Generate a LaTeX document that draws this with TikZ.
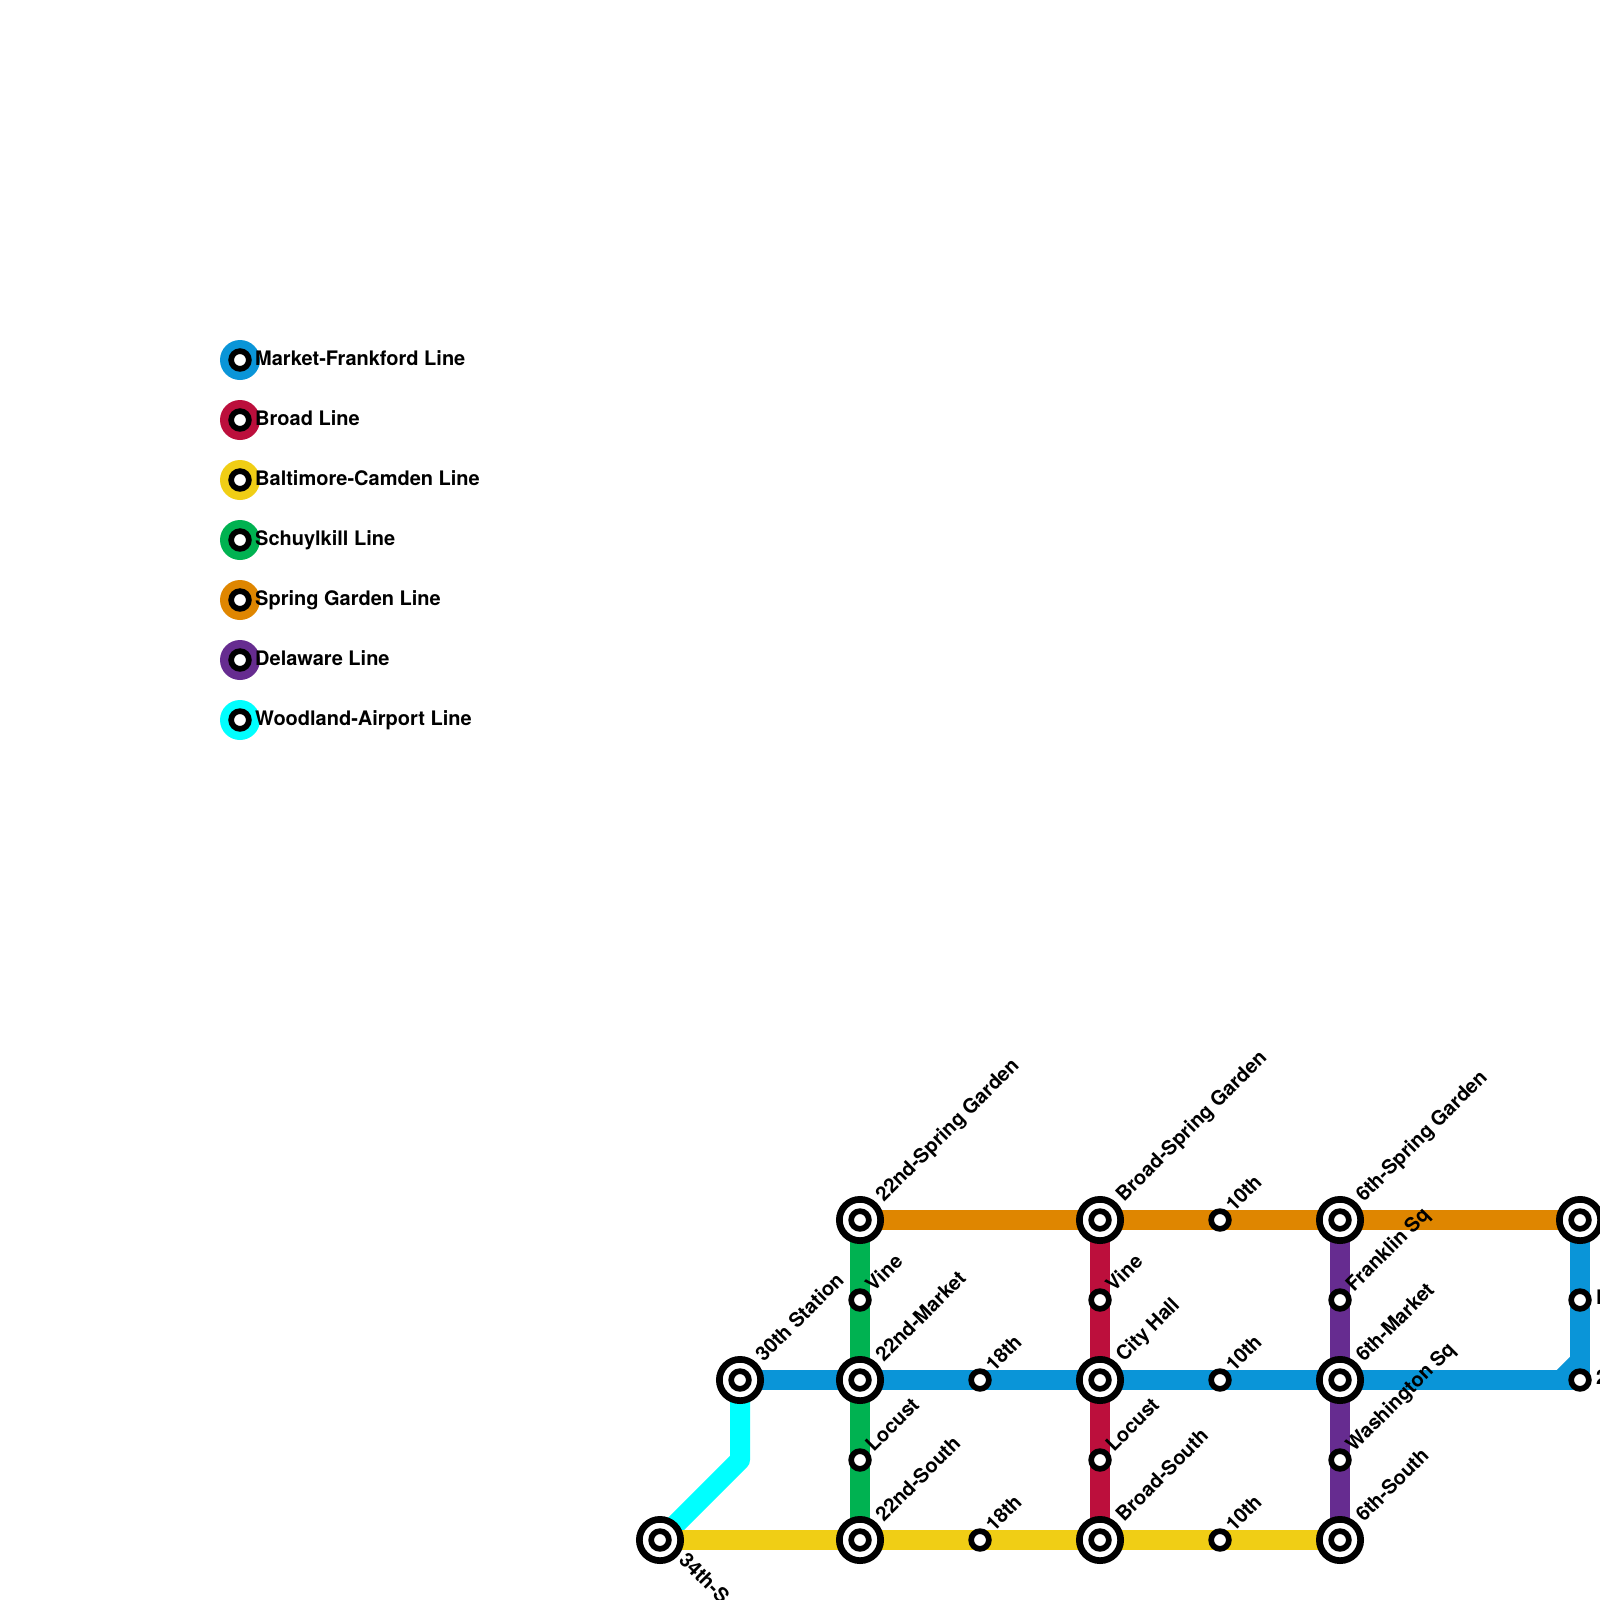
\documentclass[tikz,border=0pt]{standalone}
\usepackage{fontspec}
\setmainfont{TeX Gyre Heros}
\definecolor{mfc}{HTML}{0A95D8}
\definecolor{brc}{HTML}{BC0F3C}
\definecolor{bcc}{HTML}{F0CE15}
\definecolor{skc}{HTML}{00B251}
\definecolor{sgc}{HTML}{DF8600}
\definecolor{dec}{HTML}{662C90}
\definecolor{wac}{HTML}{00FFFF}
\pgfdeclarelayer{lines}
\pgfsetlayers{lines,main}
\tikzset{
 route/.style={line width=20bp},
 stn/.style={circle,draw=black,fill=white,line width=5.7bp,minimum size=17.7bp,inner sep=0pt},
 hub/.style={circle,draw=black,fill=white,line width=6.7bp,minimum size=41.3bp,inner sep=0pt},
 lab/.style={font=\bfseries\fontsize{20bp}{21bp}\selectfont,text=black,inner sep=0pt},
 uplab/.style={lab,anchor=mid west,rotate=45},
 downlab/.style={lab,anchor=mid west,rotate=-45},
 keydisc/.style={circle,minimum size=40bp,inner sep=0pt},
 keytext/.style={lab,anchor=mid west},
}
\newcommand{\hubat}[3]{\node[hub] (#1) at (#2,#3) {}; \node[stn] (#1i) at (#2,#3) {};}
\newcommand{\stnat}[3]{\node[stn] (#1) at (#2,#3) {};}
\newcommand{\keyat}[4]{\node[keydisc,fill=#2] (#1) at (240,#3) {}; \node[stn] (#1i) at (240,#3) {}; \node[keytext] (#1t) at (255,#3+2.5) {#4};}
\begin{document}
\begin{tikzpicture}[x=1bp,y=-1bp]
\useasboundingbox (0,0) rectangle (1600,1600);
\clip (0,0) rectangle (1600,1600);
\begin{pgfonlayer}{lines}
\fill[white] (0,0) rectangle (1600,1600);
\end{pgfonlayer}
% stations
\hubat{sf}{660}{1540}
\hubat{th}{740}{1380}
\hubat{a}{860}{1220}
\stnat{av}{860}{1300}
\hubat{am}{860}{1380}
\stnat{al}{860}{1460}
\hubat{as}{860}{1540}
\stnat{bm}{980}{1380}
\stnat{bs}{980}{1540}
\hubat{c}{1100}{1220}
\stnat{cv}{1100}{1300}
\hubat{cm}{1100}{1380}
\stnat{cl}{1100}{1460}
\hubat{cs}{1100}{1540}
\stnat{dg}{1220}{1220}
\stnat{dm}{1220}{1380}
\stnat{ds}{1220}{1540}
\hubat{e}{1340}{1220}
\stnat{ef}{1340}{1300}
\hubat{em}{1340}{1380}
\stnat{ew}{1340}{1460}
\hubat{es}{1340}{1540}
\hubat{f}{1580}{1220}
\stnat{fn}{1580}{1300}
\stnat{fm}{1580}{1380}
\coordinate (wb) at (740,1460);
\coordinate (mb) at (1580,1361);
\coordinate (mc) at (1561,1380);
% routes
\begin{pgfonlayer}{lines}
\draw[route,wac,line join=round] (th.center) -- (wb) -- (sf.center);
\draw[route,bcc] (sf.center) -- (es.center);
\draw[route,skc] (a.center) -- (as.center);
\draw[route,brc] (c.center) -- (cs.center);
\draw[route,dec] (e.center) -- (es.center);
\draw[route,sgc] (a.center) -- (f.center);
\draw[route,mfc] (th.center) -- (fm.center);
\draw[route,mfc] (f.center) -- (fm.center);
\draw[route,mfc] (mc) -- (mb);
\end{pgfonlayer}
% labels
\node[downlab] (l1) at ([shift={(19.5,19.5)}]sf.center) {34th-S};
\foreach \n/\t in {th/30th Station,a/22nd-Spring Garden,am/22nd-Market,as/22nd-South,c/Broad-Spring Garden,cm/City Hall,cs/Broad-South,e/6th-Spring Garden,em/6th-Market,es/6th-South}
  \node[uplab] (lb\n) at ([shift={(22,-19)}]\n.center) {\t};
\foreach \n/\t in {av/Vine,al/Locust,bm/18th,bs/18th,cv/Vine,cl/Locust,dg/10th,dm/10th,ds/10th,ef/Franklin Sq,ew/Washington Sq}
  \node[uplab] (lb\n) at ([shift={(12,-9)}]\n.center) {\t};
\node[keytext] (lbfn) at ([shift={(16,2)}]fn.center) {F};
\node[keytext] (lbfm) at ([shift={(16,2)}]fm.center) {2};
% legend
\keyat{k1}{mfc}{360}{Market-Frankford Line}
\keyat{k2}{brc}{420}{Broad Line}
\keyat{k3}{bcc}{480}{Baltimore-Camden Line}
\keyat{k4}{skc}{540}{Schuylkill Line}
\keyat{k5}{sgc}{600}{Spring Garden Line}
\keyat{k6}{dec}{660}{Delaware Line}
\keyat{k7}{wac}{720}{Woodland-Airport Line}
\end{tikzpicture}
\end{document}
